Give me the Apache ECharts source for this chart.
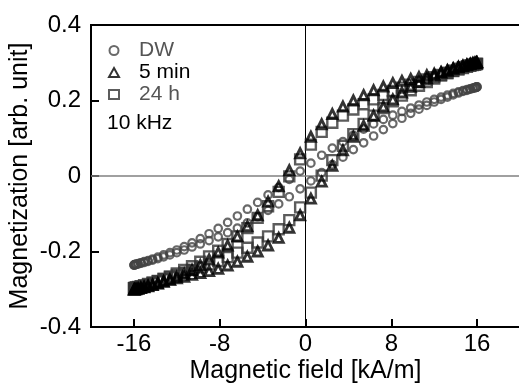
<!DOCTYPE html>
<html><head><meta charset="utf-8">
<script src="https://cdn.jsdelivr.net/npm/echarts@6/dist/echarts.min.js"></script>
<style>html,body{margin:0;padding:0;background:#fff}#c{width:519px;height:383px}</style>
</head><body><div id="c"></div>
<script>
const xTicks = [-16, -8, 0, 8, 16];
const yTicks = [-0.4, -0.2, 0, 0.2, 0.4];
const seriesNames = ['DW', '5 min', '24 h'];
const noteText = '10 kHz';

// field sweep, decreasing branch (kA/m)
const fieldDown = [15.99, 15.93, 15.80, 15.61, 15.36, 15.05, 14.68, 14.26, 13.77, 13.23, 12.64, 12.00, 11.31, 10.58, 9.81, 8.99, 8.14, 7.26, 6.35, 5.42, 4.46, 3.49, 2.50, 1.51, 0.50, -0.50, -1.51, -2.50, -3.49, -4.46, -5.42, -6.35, -7.26, -8.14, -8.99, -9.81, -10.58, -11.31, -12.00, -12.64, -13.23, -13.77, -14.26, -14.68, -15.05, -15.36, -15.61, -15.80, -15.93, -15.99];
// field sweep, increasing branch
const fieldUp = [-15.99, -15.93, -15.80, -15.61, -15.36, -15.05, -14.68, -14.26, -13.77, -13.23, -12.64, -12.00, -11.31, -10.58, -9.81, -8.99, -8.14, -7.26, -6.35, -5.42, -4.46, -3.49, -2.50, -1.51, -0.50, 0.50, 1.51, 2.50, 3.49, 4.46, 5.42, 6.35, 7.26, 8.14, 8.99, 9.81, 10.58, 11.31, 12.00, 12.64, 13.23, 13.77, 14.26, 14.68, 15.05, 15.36, 15.61, 15.80, 15.93, 15.99];

const dwDown = [0.236, 0.235, 0.234, 0.233, 0.231, 0.229, 0.226, 0.223, 0.219, 0.214, 0.209, 0.203, 0.196, 0.188, 0.180, 0.171, 0.161, 0.150, 0.138, 0.124, 0.108, 0.091, 0.074, 0.055, 0.034, 0.013, -0.009, -0.030, -0.050, -0.070, -0.088, -0.106, -0.123, -0.139, -0.153, -0.166, -0.177, -0.187, -0.196, -0.203, -0.209, -0.215, -0.220, -0.224, -0.227, -0.230, -0.232, -0.234, -0.235, -0.236];
const dwUp = [-0.236, -0.235, -0.234, -0.233, -0.231, -0.229, -0.226, -0.223, -0.219, -0.214, -0.209, -0.203, -0.196, -0.188, -0.180, -0.171, -0.161, -0.150, -0.138, -0.124, -0.108, -0.091, -0.074, -0.055, -0.034, -0.013, 0.009, 0.030, 0.050, 0.070, 0.088, 0.106, 0.123, 0.139, 0.153, 0.166, 0.177, 0.187, 0.196, 0.203, 0.209, 0.215, 0.220, 0.224, 0.227, 0.230, 0.232, 0.234, 0.235, 0.236];

const min5Down = [0.301, 0.300, 0.299, 0.298, 0.296, 0.294, 0.291, 0.288, 0.284, 0.279, 0.275, 0.271, 0.267, 0.262, 0.257, 0.252, 0.246, 0.237, 0.227, 0.214, 0.200, 0.184, 0.164, 0.137, 0.104, 0.060, 0.015, -0.027, -0.068, -0.104, -0.133, -0.160, -0.184, -0.203, -0.221, -0.236, -0.249, -0.259, -0.267, -0.274, -0.280, -0.285, -0.289, -0.292, -0.295, -0.297, -0.299, -0.300, -0.301, -0.301];
const min5Up = [-0.301, -0.300, -0.299, -0.298, -0.296, -0.294, -0.291, -0.288, -0.284, -0.279, -0.275, -0.271, -0.267, -0.262, -0.257, -0.252, -0.246, -0.237, -0.227, -0.214, -0.200, -0.184, -0.164, -0.137, -0.104, -0.060, -0.015, 0.027, 0.068, 0.104, 0.133, 0.160, 0.184, 0.203, 0.221, 0.236, 0.249, 0.259, 0.267, 0.274, 0.280, 0.285, 0.289, 0.292, 0.295, 0.297, 0.299, 0.300, 0.301, 0.301];

const h24Down = [0.297, 0.296, 0.295, 0.294, 0.292, 0.289, 0.286, 0.282, 0.278, 0.273, 0.268, 0.262, 0.256, 0.249, 0.242, 0.234, 0.225, 0.215, 0.203, 0.190, 0.176, 0.160, 0.141, 0.117, 0.083, 0.044, -0.001, -0.042, -0.080, -0.111, -0.138, -0.160, -0.180, -0.198, -0.213, -0.227, -0.239, -0.249, -0.258, -0.266, -0.273, -0.279, -0.284, -0.288, -0.291, -0.293, -0.295, -0.296, -0.297, -0.297];
const h24Up = [-0.297, -0.296, -0.295, -0.294, -0.292, -0.289, -0.286, -0.282, -0.278, -0.273, -0.268, -0.262, -0.256, -0.249, -0.242, -0.234, -0.225, -0.215, -0.203, -0.190, -0.176, -0.160, -0.141, -0.117, -0.083, -0.044, 0.001, 0.042, 0.080, 0.111, 0.138, 0.160, 0.180, 0.198, 0.213, 0.227, 0.239, 0.249, 0.258, 0.266, 0.273, 0.279, 0.284, 0.288, 0.291, 0.293, 0.295, 0.296, 0.297, 0.297];

function loop(down, up) {
  return fieldDown.map((h, i) => [h, down[i]]).concat(fieldUp.map((h, i) => [h, up[i]]));
}

const FONT = 'Liberation Sans, Arial, sans-serif';
const chart = echarts.init(document.getElementById('c'), null, {renderer: 'canvas'});
chart.setOption({
  animation: false,
  backgroundColor: '#fff',
  textStyle: {fontFamily: FONT},
  grid: {left: 91, top: 25, width: 429, height: 302, show: true, borderColor: '#000', borderWidth: 2,
         containLabel: false, outerBoundsMode: 'none'},
  legend: {
    orient: 'vertical', left: 103, top: 35, itemWidth: 10, itemHeight: 9, itemGap: 1,
    symbolKeepAspect: true,
    textStyle: {fontSize: 21, fontFamily: FONT, padding: [0, 0, 0, 15]},
    data: [
      {name: seriesNames[0], textStyle: {color: '#555'}},
      {name: seriesNames[1], textStyle: {color: '#000'}},
      {name: seriesNames[2], textStyle: {color: '#555'}}
    ]
  },
  graphic: [{type: 'text', left: 107, top: 113, style: {text: noteText, fontSize: 21, fontFamily: FONT, fill: '#000'}}],
  xAxis: {
    type: 'value', min: -20, max: 20,
    name: 'Magnetic field [kA/m]', nameLocation: 'middle', nameGap: 32, nameMoveOverlap: false,
    nameTextStyle: {fontSize: 25, color: '#000', fontFamily: FONT},
    axisLine: {show: true, onZero: false, lineStyle: {color: '#000', width: 2}},
    axisTick: {show: true, inside: true, length: 8, customValues: xTicks, lineStyle: {color: '#000', width: 2}},
    axisLabel: {customValues: xTicks, fontSize: 24, color: '#000', margin: 5, fontFamily: FONT},
    splitLine: {show: false}
  },
  yAxis: {
    type: 'value', min: -0.4, max: 0.4, interval: 0.2,
    name: 'Magnetization [arb. unit]', nameLocation: 'middle', nameGap: 58, nameMoveOverlap: false,
    nameTextStyle: {fontSize: 25, color: '#000', fontFamily: FONT},
    axisLine: {show: true, onZero: false, lineStyle: {color: '#000', width: 2}},
    axisTick: {show: true, inside: true, length: 8, lineStyle: {color: '#000', width: 2}},
    axisLabel: {fontSize: 24, color: '#000', margin: 10, fontFamily: FONT,
      formatter: v => String(Math.round(v * 10) / 10)},
    splitLine: {show: false}
  },
  series: [
    {
      name: seriesNames[0], type: 'scatter', z: 2, symbol: 'circle', symbolSize: 7.5,
      itemStyle: {color: 'rgba(255,255,255,0)', borderColor: '#444', borderWidth: 2.2},
      data: loop(dwDown, dwUp),
      markLine: {
        silent: true, symbol: 'none', z: 1, label: {show: false},
        data: [
          {xAxis: 0, lineStyle: {color: '#000', width: 1, type: 'solid'}},
          {yAxis: 0, lineStyle: {color: '#808080', width: 1.5, type: 'solid'}}
        ]
      }
    },
    {
      name: seriesNames[2], type: 'scatter', z: 3, symbol: 'rect', symbolSize: 10,
      itemStyle: {color: 'rgba(255,255,255,0)', borderColor: '#333', borderWidth: 2.4},
      data: loop(h24Down, h24Up)
    },
    {
      name: seriesNames[1], type: 'scatter', z: 4, symbol: 'triangle', symbolSize: 9,
      itemStyle: {color: 'rgba(255,255,255,0)', borderColor: '#000', borderWidth: 2.9},
      data: loop(min5Down, min5Up)
    }
  ]
});
</script></body></html>
